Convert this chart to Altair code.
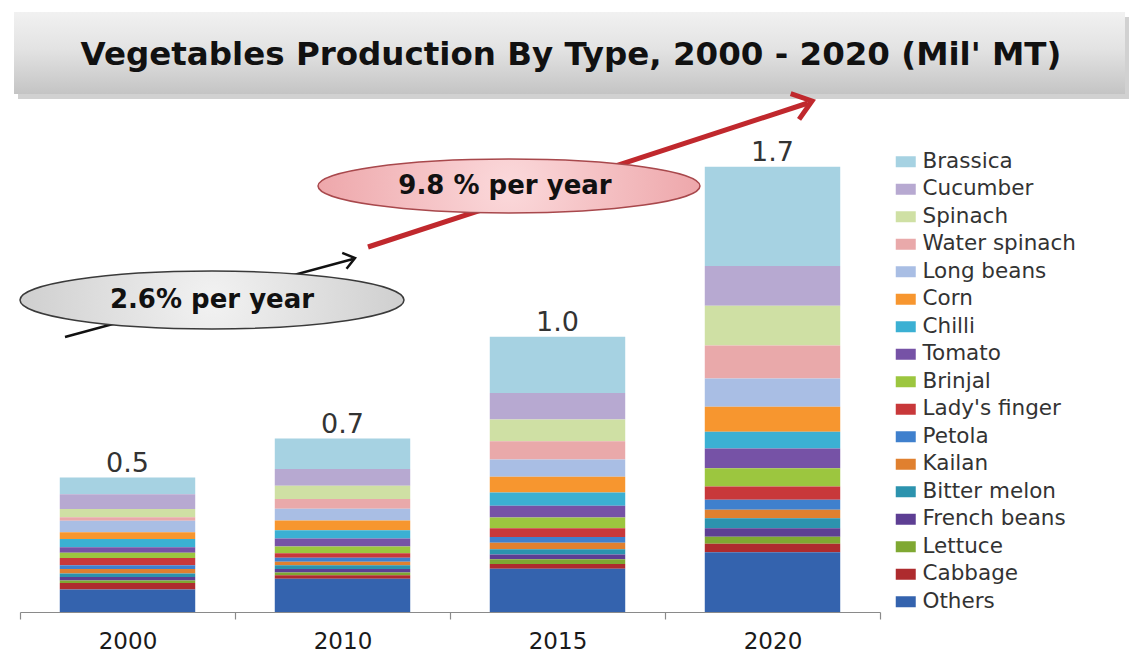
import altair as alt
import pandas as pd

# ---------------- data ----------------
years = ["2000", "2010", "2015", "2020"]
types = ["Brassica", "Cucumber", "Spinach", "Water spinach", "Long beans", "Corn",
         "Chilli", "Tomato", "Brinjal", "Lady's finger", "Petola", "Kailan",
         "Bitter melon", "French beans", "Lettuce", "Cabbage", "Others"]
colors = ["#A6D2E2", "#B7A9D1", "#CFE0A4", "#E9A9AA", "#A9BEE4", "#F7962F",
          "#3BB0D3", "#7652A6", "#9CC63F", "#C8383A", "#3F80CD", "#E0802F",
          "#2C93AE", "#5D3E93", "#7FA832", "#AE2B2E", "#3463AE"]

# values (Mil' MT) for 2000, 2010, 2015, 2020
brassica      = [0.063, 0.115, 0.213, 0.375]
cucumber      = [0.056, 0.063, 0.100, 0.150]
spinach       = [0.031, 0.050, 0.082, 0.150]
water_spinach = [0.013, 0.037, 0.069, 0.125]
long_beans    = [0.044, 0.044, 0.065, 0.107]
corn          = [0.025, 0.037, 0.060, 0.094]
chilli        = [0.031, 0.031, 0.050, 0.063]
tomato        = [0.021, 0.031, 0.044, 0.075]
brinjal       = [0.020, 0.025, 0.041, 0.069]
ladys_finger  = [0.027, 0.017, 0.033, 0.050]
petola        = [0.015, 0.015, 0.021, 0.038]
kailan        = [0.017, 0.013, 0.025, 0.032]
bitter_melon  = [0.013, 0.015, 0.020, 0.038]
french_beans  = [0.013, 0.013, 0.018, 0.032]
lettuce       = [0.009, 0.010, 0.018, 0.026]
cabbage       = [0.025, 0.013, 0.018, 0.032]
others        = [0.085, 0.126, 0.163, 0.226]

series = [brassica, cucumber, spinach, water_spinach, long_beans, corn, chilli,
          tomato, brinjal, ladys_finger, petola, kailan, bitter_melon,
          french_beans, lettuce, cabbage, others]

title_text = "Vegetables Production By Type, 2000 - 2020 (Mil' MT)"
note_low = "2.6% per year"
note_high = "9.8 % per year"

rows = []
for i, (t, vals) in enumerate(zip(types, series)):
    for y, v in zip(years, vals):
        rows.append({"Year": y, "Type": t, "Value": v, "order": len(types) - 1 - i})
df = pd.DataFrame(rows)
one = pd.DataFrame({"k": [0]})

# ---------------- layout helpers ----------------
W, H = 860, 503
PAD_L, PAD_T = 12, 101
OX, OY = 8 + PAD_L, 8 + PAD_T   # plot origin in page pixels


def px(x):
    return x - OX


def py(y):
    return y - OY


FONT = "DejaVu Sans"

# ---------------- bars ----------------
base = alt.Chart(df)
xenc = alt.X("Year:N", sort=years,
             scale=alt.Scale(paddingInner=0, paddingOuter=0),
             axis=alt.Axis(title=None, labelAngle=0, labelFont=FONT, labelFontSize=23,
                           labelColor="#1a1a1a", labelPadding=11, tickSize=7,
                           tickColor="#8a8a8a", domainColor="#8a8a8a", tickBand="extent",
                           domainWidth=1.2, tickWidth=1.2, grid=False))
bars = base.mark_bar(width=alt.RelativeBandSize(0.63)).encode(
    x=xenc,
    y=alt.Y("sum(Value):Q", stack="zero", scale=alt.Scale(domain=[0, 1.9], nice=False),
            axis=None),
    color=alt.Color("Type:N", scale=alt.Scale(domain=types, range=colors),
                    legend=alt.Legend(title=None, orient="none", legendX=875, legendY=42,
                                      symbolType="M-1,-0.55L1,-0.55L1,0.55L-1,0.55Z",
                                      symbolSize=400, symbolStrokeWidth=0,
                                      labelFont=FONT, labelFontSize=21.5, labelColor="#333333",
                                      rowPadding=4.5, labelOffset=6, padding=0,
                                      labelLimit=300)),
    order=alt.Order("order:Q", sort="ascending"),
)

totals = base.transform_aggregate(
    total="sum(Value)", groupby=["Year"]
).mark_text(font=FONT, fontSize=27, color="#333333", baseline="alphabetic",
            align="center", dy=-6).encode(
    x=alt.X("Year:N", sort=years),
    y=alt.Y("total:Q"),
    text=alt.Text("total:Q", format=".1f"),
)

# ---------------- decorations ----------------
shadow = alt.Chart(one).mark_rect(color="#9a9a9a", opacity=0.45).encode(
    x=alt.value(px(18)), x2=alt.value(px(1129)), y=alt.value(py(17)), y2=alt.value(py(99)))
banner = alt.Chart(one).mark_rect(
    fill=alt.Gradient(gradient="linear",
                      stops=[alt.GradientStop(offset=0, color="#f1f1f1"),
                             alt.GradientStop(offset=0.45, color="#e3e3e3"),
                             alt.GradientStop(offset=1, color="#c4c4c4")],
                      x1=0, x2=0, y1=0, y2=1)
).encode(x=alt.value(px(14)), x2=alt.value(px(1125)), y=alt.value(py(12)), y2=alt.value(py(94)))
title = alt.Chart(one).mark_text(text=title_text, font=FONT, fontWeight="bold", fontSize=32.5,
                                 color="#111111", align="center", baseline="middle").encode(
    x=alt.value(px(571)), y=alt.value(py(55)))

black_line = alt.Chart(one).mark_rule(color="#111111", strokeWidth=2.5).encode(
    x=alt.value(px(65)), y=alt.value(py(337)), x2=alt.value(px(353)), y2=alt.value(py(259)))
black_head = alt.Chart(one).mark_point(shape="M-0.75,1L0,0L0.75,1", size=484, angle=74.8,
                                       filled=False, stroke="#111111", strokeWidth=2.5,
                                       opacity=1).encode(
    x=alt.value(px(355)), y=alt.value(py(258)))

red_line = alt.Chart(one).mark_rule(color="#C0282D", strokeWidth=5).encode(
    x=alt.value(px(368)), y=alt.value(py(247)), x2=alt.value(px(808)), y2=alt.value(py(103)))
red_head = alt.Chart(one).mark_point(shape="M-0.75,1L0,0L0.75,1", size=1296, angle=72,
                                     filled=False, stroke="#C0282D", strokeWidth=5,
                                     opacity=1).encode(
    x=alt.value(px(812)), y=alt.value(py(101)))


def ellipse_path(r):
    k = 0.5523
    return (f"M-1,0C-1,{-k*r:.4f} {-k:.4f},{-r:.4f} 0,{-r:.4f}"
            f"C{k:.4f},{-r:.4f} 1,{-k*r:.4f} 1,0"
            f"C1,{k*r:.4f} {k:.4f},{r:.4f} 0,{r:.4f}"
            f"C{-k:.4f},{r:.4f} -1,{k*r:.4f} -1,0Z")


grey_ell = alt.Chart(one).mark_point(
    shape=ellipse_path(29 / 192), size=384 ** 2, filled=True, opacity=1,
    fill=alt.RadialGradient(gradient="radial",
                            stops=[alt.GradientStop(offset=0, color="#f2f2f2"),
                                   alt.GradientStop(offset=1, color="#c8c8c8")],
                            x1=0.5, y1=0.5, r1=0, x2=0.5, y2=0.5, r2=0.6),
    stroke="#3a3a3a", strokeWidth=1.5).encode(x=alt.value(px(212)), y=alt.value(py(300)))
pink_ell = alt.Chart(one).mark_point(
    shape=ellipse_path(27 / 191), size=382 ** 2, filled=True, opacity=1,
    fill=alt.RadialGradient(gradient="radial",
                            stops=[alt.GradientStop(offset=0, color="#fbd9db"),
                                   alt.GradientStop(offset=1, color="#eb9da1")],
                            x1=0.5, y1=0.5, r1=0, x2=0.5, y2=0.5, r2=0.6),
    stroke="#a8484c", strokeWidth=1.5).encode(x=alt.value(px(509)), y=alt.value(py(186)))

low_text = alt.Chart(one).mark_text(text=note_low, font=FONT, fontWeight="bold", fontSize=26,
                                    color="#111111", align="center", baseline="middle").encode(
    x=alt.value(px(212)), y=alt.value(py(300)))
high_text = alt.Chart(one).mark_text(text=note_high, font=FONT, fontWeight="bold", fontSize=26,
                                     color="#111111", align="center", baseline="middle").encode(
    x=alt.value(px(505)), y=alt.value(py(186)))

chart = alt.layer(
    shadow, banner, title, bars, totals,
    black_line, black_head, red_line, red_head,
    grey_ell, pink_ell, low_text, high_text,
).properties(
    width=W, height=H,
    autosize=alt.AutoSizeParams(type="none"),
    padding={"left": PAD_L, "top": PAD_T, "right": 1123 - PAD_L - W, "bottom": 648 - PAD_T - H},
    background="white",
).configure_view(stroke=None)

chart.save("out.html", embed_options={"renderer": "svg", "actions": False})
